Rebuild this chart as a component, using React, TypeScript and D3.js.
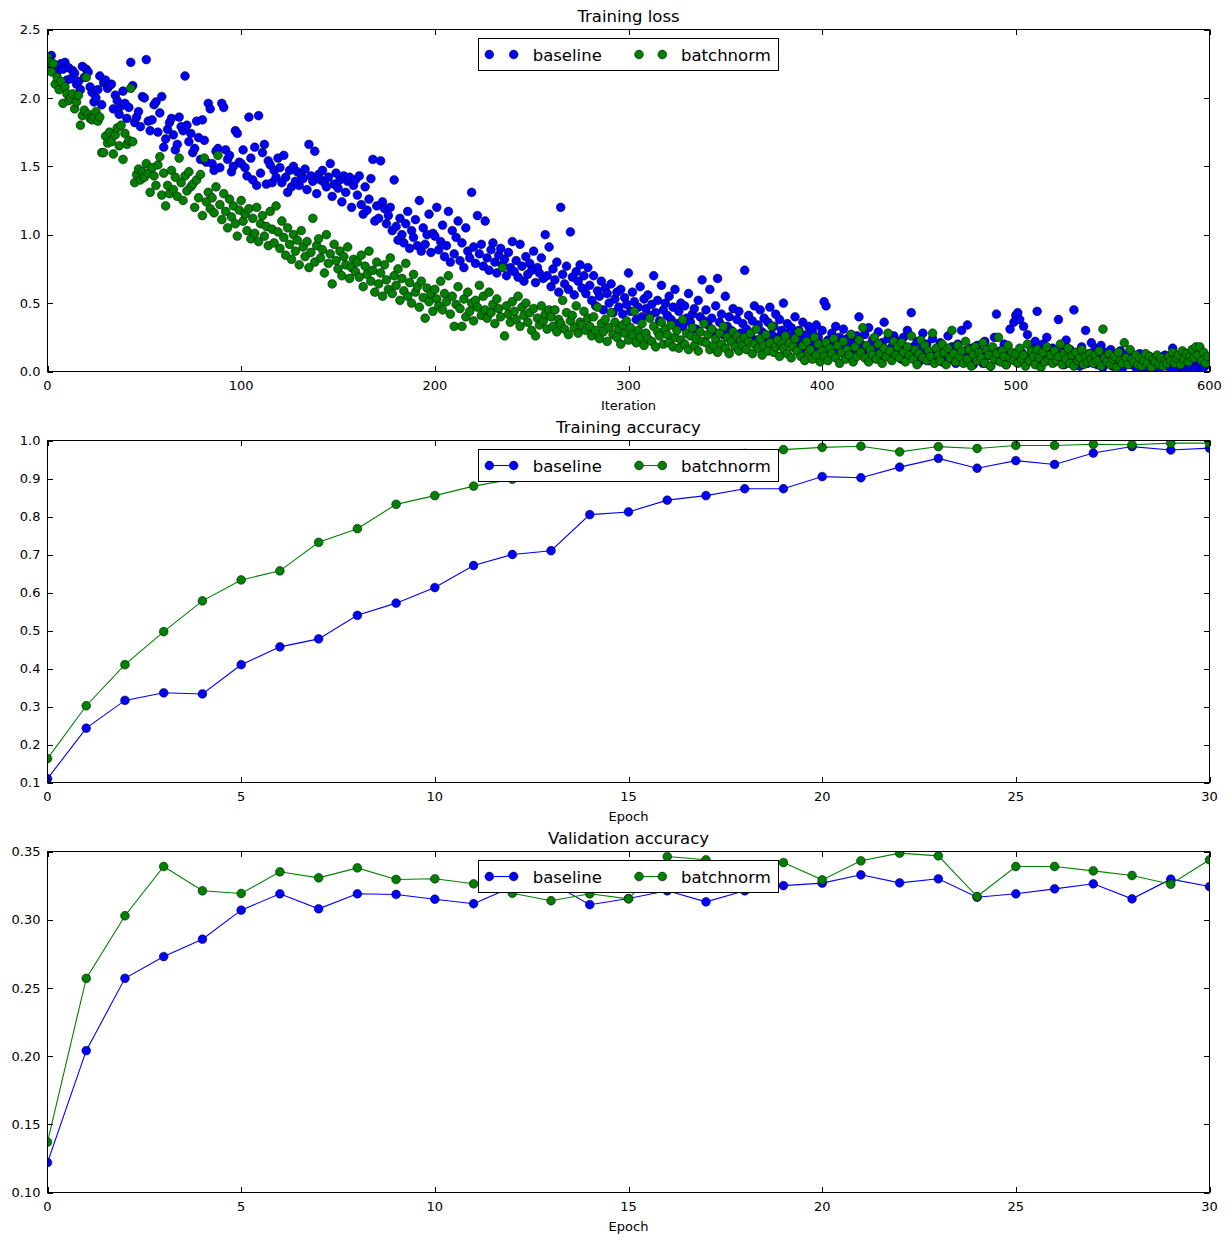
import React from 'react';
import * as d3 from 'd3';

// ---------- DATA ----------
const SERIES_NAMES = ['baseline', 'batchnorm'];
const SERIES_COLORS = ['#0000ff', '#008000'];

// Training loss per iteration (600 iterations)
const LOSS_BASELINE = [
  2.28, 2.25, 2.31, 2.22, 2.24, 2.19, 2.23, 2.25, 2.21, 2.26, 2.13, 2.22, 2.14, 2.20, 2.18, 2.10, 2.12, 2.06, 2.23, 2.15,
  2.21, 2.19, 2.08, 2.04, 1.97, 2.00, 2.06, 2.16, 1.95, 2.11, 2.13, 2.07, 2.09, 2.10, 1.92, 2.02, 1.98, 1.88, 1.94, 2.05,
  1.96, 1.85, 1.93, 2.26, 2.09, 1.82, 1.86, 1.90, 1.79, 2.01, 2.00, 2.28, 1.83, 1.76, 1.84, 1.95, 1.97, 1.75, 1.89, 2.01,
  1.64, 1.70, 1.77, 1.82, 1.85, 1.73, 1.62, 1.66, 1.86, 1.79, 1.76, 2.16, 1.80, 1.68, 1.74, 1.60, 1.63, 1.83, 1.71, 1.55,
  1.84, 1.69, 1.53, 1.96, 1.92, 1.52, 1.47, 1.61, 1.63, 1.49, 1.96, 1.93, 1.62, 1.55, 1.58, 1.46, 1.50, 1.76, 1.74, 1.53,
  1.52, 1.62, 1.49, 1.43, 1.86, 1.56, 1.40, 1.64, 1.36, 1.87, 1.45, 1.60, 1.66, 1.37, 1.54, 1.51, 1.38, 1.47, 1.42, 1.56,
  1.49, 1.38, 1.58, 1.42, 1.31, 1.47, 1.35, 1.50, 1.39, 1.46, 1.36, 1.44, 1.41, 1.48, 1.33, 1.66, 1.43, 1.39, 1.61, 1.30,
  1.44, 1.40, 1.47, 1.38, 1.35, 1.42, 1.52, 1.28, 1.37, 1.45, 1.34, 1.40, 1.24, 1.43, 1.31, 1.39, 1.42, 1.20, 1.36, 1.40,
  1.29, 1.43, 1.22, 1.15, 1.35, 1.18, 1.26, 1.41, 1.55, 1.10, 1.21, 1.12, 1.54, 1.24, 1.19, 1.08, 1.14, 1.20, 1.03, 1.40,
  1.06, 0.96, 1.12, 1.00, 0.94, 1.08, 1.17, 0.90, 1.03, 0.98, 1.11, 0.92, 1.25, 0.88, 1.05, 0.93, 1.00, 1.15, 0.87, 1.01,
  0.99, 1.20, 0.89, 0.95, 1.07, 0.84, 0.92, 1.17, 0.80, 1.03, 0.86, 0.98, 1.10, 0.81, 0.94, 0.76, 1.05, 0.88, 0.83, 1.31,
  0.91, 0.79, 1.14, 0.86, 0.93, 0.77, 1.10, 0.83, 0.74, 0.89, 0.94, 0.80, 0.72, 0.85, 0.90, 0.78, 0.82, 0.70, 0.87, 0.76,
  0.95, 0.73, 0.81, 0.69, 0.93, 0.77, 0.66, 0.84, 0.71, 0.79, 0.74, 0.88, 0.65, 0.76, 0.72, 0.83, 0.68, 1.00, 0.70, 0.91,
  0.62, 0.75, 0.67, 0.80, 0.58, 1.20, 0.71, 0.64, 0.77, 0.60, 1.02, 0.69, 0.56, 0.73, 0.66, 0.78, 0.61, 0.70, 0.57, 0.76,
  0.63, 0.52, 0.70, 0.48, 0.59, 0.55, 0.66, 0.45, 0.61, 0.57, 0.50, 0.64, 0.43, 0.53, 0.58, 0.47, 0.60, 0.42, 0.54, 0.49,
  0.72, 0.44, 0.58, 0.51, 0.38, 0.47, 0.62, 0.40, 0.53, 0.46, 0.56, 0.41, 0.49, 0.70, 0.43, 0.52, 0.37, 0.63, 0.45, 0.50,
  0.41, 0.55, 0.38, 0.47, 0.60, 0.35, 0.44, 0.50, 0.33, 0.48, 0.39, 0.57, 0.36, 0.42, 0.46, 0.31, 0.52, 0.40, 0.67, 0.37,
  0.45, 0.34, 0.60, 0.39, 0.29, 0.48, 0.68, 0.36, 0.42, 0.27, 0.55, 0.33, 0.40, 0.30, 0.46, 0.24, 0.38, 0.44, 0.28, 0.35,
  0.74, 0.31, 0.41, 0.26, 0.37, 0.48, 0.23, 0.34, 0.45, 0.29, 0.39, 0.22, 0.36, 0.47, 0.27, 0.33, 0.42, 0.25, 0.38, 0.30,
  0.50, 0.28, 0.35, 0.21, 0.32, 0.26, 0.40, 0.19, 0.30, 0.24, 0.36, 0.17, 0.27, 0.33, 0.22, 0.29, 0.18, 0.34, 0.25, 0.20,
  0.30, 0.51, 0.48, 0.23, 0.16, 0.28, 0.21, 0.33, 0.14, 0.25, 0.19, 0.31, 0.12, 0.24, 0.18, 0.27, 0.15, 0.22, 0.26, 0.40,
  0.20, 0.13, 0.27, 0.17, 0.32, 0.10, 0.23, 0.19, 0.15, 0.29, 0.12, 0.21, 0.36, 0.16, 0.24, 0.11, 0.18, 0.26, 0.14, 0.22,
  0.19, 0.09, 0.25, 0.15, 0.30, 0.13, 0.43, 0.18, 0.11, 0.22, 0.07, 0.16, 0.28, 0.12, 0.20, 0.08, 0.14, 0.24, 0.10, 0.17,
  0.13, 0.21, 0.07, 0.16, 0.11, 0.26, 0.09, 0.18, 0.14, 0.06, 0.20, 0.12, 0.30, 0.08, 0.15, 0.34, 0.10, 0.17, 0.05, 0.13,
  0.19, 0.09, 0.14, 0.06, 0.22, 0.11, 0.16, 0.04, 0.13, 0.25, 0.42, 0.08, 0.15, 0.10, 0.20, 0.05, 0.12, 0.31, 0.09, 0.36,
  0.41, 0.43, 0.38, 0.14, 0.33, 0.11, 0.27, 0.08, 0.18, 0.12, 0.22, 0.44, 0.15, 0.06, 0.20, 0.09, 0.25, 0.13, 0.10, 0.17,
  0.07, 0.14, 0.38, 0.11, 0.19, 0.05, 0.23, 0.09, 0.16, 0.12, 0.45, 0.08, 0.14, 0.04, 0.18, 0.10, 0.30, 0.06, 0.13, 0.21,
  0.09, 0.17, 0.05, 0.12, 0.19, 0.03, 0.14, 0.08, 0.11, 0.16, 0.04, 0.10, 0.13, 0.06, 0.15, 0.02, 0.09, 0.12, 0.07, 0.11,
  0.05, 0.10, 0.03, 0.08, 0.13, 0.06, 0.02, 0.09, 0.04, 0.11, 0.07, 0.03, 0.06, 0.10, 0.02, 0.08, 0.05, 0.12, 0.04, 0.07,
  0.03, 0.17, 0.06, 0.02, 0.09, 0.04, 0.11, 0.01, 0.07, 0.05, 0.13, 0.03, 0.08, 0.02, 0.10, 0.04, 0.06, 0.03, 0.09, 0.05,
];

const LOSS_BATCHNORM = [
  2.30, 2.26, 2.19, 2.25, 2.10, 2.15, 2.06, 2.12, 1.96, 2.08, 2.03, 1.98, 2.00, 2.03, 1.92, 1.97, 2.02, 1.80, 1.87, 1.91,
  2.15, 1.88, 1.85, 1.84, 1.86, 1.90, 1.83, 1.86, 1.60, 1.60, 1.72, 1.67, 1.75, 1.68, 1.59, 1.73, 1.78, 1.65, 1.80, 1.55,
  1.74, 1.66, 1.69, 2.07, 1.68, 1.38, 1.44, 1.48, 1.40, 1.46, 1.42, 1.52, 1.45, 1.31, 1.49, 1.43, 1.36, 1.51, 1.57, 1.29,
  1.45, 1.21, 1.36, 1.30, 1.47, 1.33, 1.42, 1.28, 1.56, 1.38, 1.25, 1.43, 1.32, 1.46, 1.35, 1.37, 1.20, 1.40, 1.27, 1.44,
  1.14, 1.56, 1.24, 1.31, 1.19, 1.27, 1.16, 1.35, 1.58, 1.22, 1.11, 1.30, 1.17, 1.05, 1.26, 1.13, 1.21, 1.08, 0.99, 1.18,
  1.25, 1.10, 1.15, 1.03, 1.19, 0.97, 1.12, 1.01, 1.20, 0.95, 1.08, 1.14, 0.99, 1.06, 0.92, 1.17, 1.04, 0.94, 1.21, 1.02,
  0.90, 1.10, 0.98, 0.85, 1.05, 0.93, 0.82, 1.00, 0.88, 0.96, 0.78, 1.03, 0.91, 0.84, 0.95, 0.76, 0.87, 1.12, 0.80, 0.92,
  0.97, 0.83, 0.89, 0.72, 1.00, 0.79, 0.86, 0.64, 0.93, 0.81, 0.75, 0.88, 0.70, 0.84, 0.78, 0.91, 0.68, 0.76, 0.82, 0.73,
  0.80, 0.69, 0.85, 0.62, 0.77, 0.71, 0.88, 0.66, 0.74, 0.58, 0.80, 0.64, 0.72, 0.55, 0.78, 0.67, 0.60, 0.83, 0.57, 0.70,
  0.63, 0.75, 0.52, 0.68, 0.59, 0.79, 0.55, 0.65, 0.50, 0.71, 0.58, 0.62, 0.47, 0.66, 0.54, 0.39, 0.61, 0.51, 0.57, 0.44,
  0.60, 0.53, 0.48, 0.66, 0.45, 0.57, 0.51, 0.70, 0.42, 0.55, 0.33, 0.49, 0.62, 0.46, 0.33, 0.53, 0.40, 0.58, 0.44, 0.50,
  0.37, 0.52, 0.47, 0.63, 0.41, 0.55, 0.45, 0.39, 0.58, 0.43, 0.49, 0.35, 0.53, 0.46, 0.40, 0.76, 0.26, 0.48, 0.42, 0.36,
  0.51, 0.44, 0.38, 0.55, 0.33, 0.47, 0.41, 0.50, 0.36, 0.43, 0.30, 0.46, 0.26, 0.39, 0.34, 0.48, 0.37, 0.42, 0.31, 0.45,
  0.40, 0.33, 0.45, 0.29, 0.38, 0.35, 0.52, 0.31, 0.43, 0.27, 0.37, 0.41, 0.32, 0.48, 0.28, 0.36, 0.34, 0.44, 0.30, 0.39,
  0.33, 0.26, 0.40, 0.30, 0.47, 0.24, 0.35, 0.29, 0.38, 0.22, 0.32, 0.43, 0.27, 0.36, 0.25, 0.31, 0.20, 0.34, 0.28, 0.37,
  0.23, 0.32, 0.27, 0.44, 0.21, 0.30, 0.25, 0.35, 0.19, 0.28, 0.24, 0.39, 0.22, 0.33, 0.18, 0.29, 0.26, 0.36, 0.20, 0.31,
  0.27, 0.21, 0.34, 0.18, 0.25, 0.30, 0.17, 0.23, 0.38, 0.20, 0.28, 0.16, 0.26, 0.32, 0.19, 0.24, 0.15, 0.29, 0.22, 0.35,
  0.21, 0.27, 0.16, 0.31, 0.19, 0.24, 0.14, 0.28, 0.20, 0.33, 0.17, 0.25, 0.13, 0.22, 0.29, 0.18, 0.26, 0.15, 0.23, 0.19,
  0.25, 0.16, 0.22, 0.28, 0.13, 0.20, 0.31, 0.17, 0.24, 0.12, 0.19, 0.27, 0.15, 0.21, 0.33, 0.14, 0.18, 0.23, 0.11, 0.20,
  0.17, 0.26, 0.13, 0.21, 0.10, 0.18, 0.24, 0.15, 0.29, 0.11, 0.19, 0.08, 0.22, 0.14, 0.16, 0.09, 0.25, 0.12, 0.20, 0.07,
  0.15, 0.11, 0.21, 0.08, 0.17, 0.13, 0.24, 0.10, 0.19, 0.06, 0.14, 0.22, 0.09, 0.16, 0.12, 0.27, 0.07, 0.18, 0.11, 0.23,
  0.14, 0.32, 0.10, 0.19, 0.07, 0.16, 0.12, 0.25, 0.09, 0.20, 0.13, 0.06, 0.17, 0.11, 0.28, 0.15, 0.08, 0.22, 0.12, 0.18,
  0.10, 0.21, 0.14, 0.07, 0.18, 0.12, 0.26, 0.09, 0.16, 0.05, 0.13, 0.23, 0.10, 0.19, 0.08, 0.15, 0.11, 0.28, 0.06, 0.17,
  0.12, 0.08, 0.20, 0.14, 0.05, 0.17, 0.10, 0.30, 0.13, 0.07, 0.19, 0.11, 0.15, 0.06, 0.22, 0.09, 0.16, 0.04, 0.12, 0.18,
  0.08, 0.14, 0.10, 0.21, 0.06, 0.16, 0.12, 0.04, 0.18, 0.09, 0.13, 0.25, 0.07, 0.15, 0.11, 0.05, 0.19, 0.10, 0.14, 0.08,
  0.13, 0.06, 0.17, 0.09, 0.12, 0.04, 0.20, 0.08, 0.15, 0.11, 0.05, 0.16, 0.10, 0.03, 0.14, 0.07, 0.18, 0.09, 0.12, 0.06,
  0.15, 0.08, 0.11, 0.20, 0.05, 0.13, 0.09, 0.17, 0.06, 0.12, 0.04, 0.14, 0.08, 0.10, 0.16, 0.05, 0.11, 0.07, 0.13, 0.09,
  0.06, 0.12, 0.08, 0.15, 0.04, 0.31, 0.10, 0.07, 0.13, 0.05, 0.09, 0.11, 0.03, 0.14, 0.08, 0.06, 0.21, 0.10, 0.05, 0.16,
  0.09, 0.07, 0.12, 0.05, 0.10, 0.04, 0.08, 0.13, 0.06, 0.11, 0.03, 0.09, 0.07, 0.12, 0.05, 0.10, 0.04, 0.08, 0.06, 0.11,
  0.08, 0.14, 0.06, 0.10, 0.12, 0.05, 0.15, 0.09, 0.13, 0.07, 0.11, 0.16, 0.10, 0.18, 0.12, 0.18, 0.08, 0.14, 0.06, 0.11,
];

// Per-epoch accuracies (epochs 0..30)
const TRAIN_ACC_BASELINE = [
  0.110, 0.243, 0.316, 0.336, 0.333, 0.410, 0.457, 0.478, 0.540, 0.572, 0.613,
  0.671, 0.700, 0.710, 0.805, 0.812, 0.843, 0.855, 0.873, 0.873, 0.905,
  0.902, 0.930, 0.953, 0.927, 0.947, 0.937, 0.967, 0.984, 0.975, 0.980,
];
const TRAIN_ACC_BATCHNORM = [
  0.163, 0.302, 0.410, 0.497, 0.578, 0.633, 0.657, 0.732, 0.768, 0.832, 0.855,
  0.880, 0.898, 0.915, 0.930, 0.942, 0.952, 0.960, 0.966, 0.976, 0.982,
  0.985, 0.970, 0.984, 0.979, 0.987, 0.987, 0.990, 0.989, 0.993, 0.993,
];
const VAL_ACC_BASELINE = [
  0.122, 0.204, 0.257, 0.273, 0.2857, 0.307, 0.319, 0.308, 0.319, 0.3185, 0.315,
  0.3117, 0.324, 0.327, 0.311, 0.3155, 0.3212, 0.3131, 0.3212, 0.325, 0.3268,
  0.3329, 0.327, 0.330, 0.3165, 0.319, 0.3226, 0.3263, 0.3153, 0.3297, 0.3243,
];
const VAL_ACC_BATCHNORM = [
  0.137, 0.257, 0.3029, 0.339, 0.3212, 0.3192, 0.3351, 0.3307, 0.338, 0.3295, 0.330,
  0.3263, 0.3194, 0.3139, 0.319, 0.3153, 0.3463, 0.3439, 0.339, 0.3419, 0.3292,
  0.3432, 0.3488, 0.3468, 0.317, 0.339, 0.339, 0.3358, 0.3324, 0.326, 0.3439,
];

const LOSS_X_TICKS = [0, 100, 200, 300, 400, 500, 600];
const LOSS_Y_TICKS = [0.0, 0.5, 1.0, 1.5, 2.0, 2.5];
const EPOCH_X_TICKS = [0, 5, 10, 15, 20, 25, 30];
const TRAIN_ACC_Y_TICKS = [0.1, 0.2, 0.3, 0.4, 0.5, 0.6, 0.7, 0.8, 0.9, 1.0];
const VAL_ACC_Y_TICKS = [0.10, 0.15, 0.20, 0.25, 0.30, 0.35];

// ---------- LAYOUT ----------
const W = 1232;
const H = 1243;
const LEFT = 47.5;
const RIGHT = 1209.5;
const FONT = 'DejaVu Sans, Verdana, sans-serif';
const MARKER_R = 4.4;
const TICK_LEN = 5.5;

type PanelProps = {
  id: string;
  top: number;
  bottom: number;
  title: string;
  xlabel: string;
  xDomain: [number, number];
  yDomain: [number, number];
  xTicks: number[];
  yTicks: number[];
  yFmt: (v: number) => string;
  series: number[][];
  withLines: boolean;
};

function Panel(p: PanelProps) {
  const x = d3.scaleLinear().domain(p.xDomain).range([LEFT, RIGHT]);
  const y = d3.scaleLinear().domain(p.yDomain).range([p.bottom, p.top]);
  const line = d3
    .line<number>()
    .x((_, i) => x(i))
    .y((d) => y(d));
  const legendTop = p.top + 9;
  const legendX0 = 478.5;
  const legendX1 = 778.5;
  const legendCy = legendTop + 16;
  const entries = [
    { m1: 489.3, m2: 513.7, tx: 532.7 },
    { m1: 639, m2: 662.3, tx: 681 },
  ];
  return (
    <g>
      <defs>
        <clipPath id={`clip-${p.id}`}>
          <rect x={LEFT} y={p.top} width={RIGHT - LEFT} height={p.bottom - p.top} />
        </clipPath>
      </defs>
      <g clipPath={`url(#clip-${p.id})`}>
        {p.series.map((vals, si) => (
          <g key={si}>
            {p.withLines && (
              <path d={line(vals) || ''} fill="none" stroke={SERIES_COLORS[si]} strokeWidth={1.1} />
            )}
            {vals.map((v, i) => (
              <circle
                key={i}
                cx={x(i)}
                cy={y(v)}
                r={MARKER_R}
                fill={SERIES_COLORS[si]}
                stroke="#000"
                strokeWidth={0.5}
              />
            ))}
          </g>
        ))}
      </g>
      {/* frame */}
      <rect
        x={LEFT}
        y={p.top}
        width={RIGHT - LEFT}
        height={p.bottom - p.top}
        fill="none"
        stroke="#000"
        strokeWidth={1}
      />
      {/* x ticks */}
      {p.xTicks.map((t) => {
        const xx = Math.round(x(t)) + 0.5;
        return (
          <g key={`xt${t}`}>
            <line x1={xx} x2={xx} y1={p.bottom} y2={p.bottom - TICK_LEN} stroke="#000" strokeWidth={1} />
            <line x1={xx} x2={xx} y1={p.top} y2={p.top + TICK_LEN} stroke="#000" strokeWidth={1} />
            <text
              x={x(t)}
              y={p.bottom + 18}
              textAnchor="middle"
              fontFamily={FONT}
              fontSize={13}
              fill="#000"
            >
              {t}
            </text>
          </g>
        );
      })}
      {/* y ticks */}
      {p.yTicks.map((t) => {
        const yy = Math.round(y(t)) + 0.5;
        return (
          <g key={`yt${t}`}>
            <line x1={LEFT} x2={LEFT + TICK_LEN} y1={yy} y2={yy} stroke="#000" strokeWidth={1} />
            <line x1={RIGHT} x2={RIGHT - TICK_LEN} y1={yy} y2={yy} stroke="#000" strokeWidth={1} />
            <text
              x={LEFT - 7}
              y={y(t) + 4.7}
              textAnchor="end"
              fontFamily={FONT}
              fontSize={13}
              fill="#000"
            >
              {p.yFmt(t)}
            </text>
          </g>
        );
      })}
      {/* title */}
      <text
        x={(LEFT + RIGHT) / 2}
        y={p.top - 7.5}
        textAnchor="middle"
        fontFamily={FONT}
        fontSize={16.5}
        fill="#000"
      >
        {p.title}
      </text>
      {/* x label */}
      <text
        x={(LEFT + RIGHT) / 2}
        y={p.bottom + 38}
        textAnchor="middle"
        fontFamily={FONT}
        fontSize={13}
        fill="#000"
      >
        {p.xlabel}
      </text>
      {/* legend */}
      <rect
        x={legendX0}
        y={legendTop}
        width={legendX1 - legendX0}
        height={32}
        fill="#fff"
        stroke="#000"
        strokeWidth={1}
      />
      {entries.map((e, si) => (
        <g key={`lg${si}`}>
          {p.withLines && (
            <line x1={e.m1} x2={e.m2} y1={legendCy} y2={legendCy} stroke={SERIES_COLORS[si]} strokeWidth={1.1} />
          )}
          <circle cx={e.m1} cy={legendCy} r={MARKER_R} fill={SERIES_COLORS[si]} stroke="#000" strokeWidth={0.5} />
          <circle cx={e.m2} cy={legendCy} r={MARKER_R} fill={SERIES_COLORS[si]} stroke="#000" strokeWidth={0.5} />
          <text x={e.tx} y={legendCy + 6} fontFamily={FONT} fontSize={16.5} fill="#000">
            {SERIES_NAMES[si]}
          </text>
        </g>
      ))}
    </g>
  );
}

export default function App() {
  const f1 = d3.format('.1f');
  const f2 = d3.format('.2f');
  return (
    <svg
      width={W}
      height={H}
      viewBox={`0 0 ${W} ${H}`}
      style={{ position: 'absolute', left: 0, top: 0, background: '#fff' }}
    >
      <rect x={0} y={0} width={W} height={H} fill="#fff" />
      <Panel
        id="loss"
        top={29.5}
        bottom={371.5}
        title="Training loss"
        xlabel="Iteration"
        xDomain={[0, 600]}
        yDomain={[0, 2.5]}
        xTicks={LOSS_X_TICKS}
        yTicks={LOSS_Y_TICKS}
        yFmt={f1}
        series={[LOSS_BASELINE, LOSS_BATCHNORM]}
        withLines={false}
      />
      <Panel
        id="tacc"
        top={440.5}
        bottom={782.5}
        title="Training accuracy"
        xlabel="Epoch"
        xDomain={[0, 30]}
        yDomain={[0.1, 1.0]}
        xTicks={EPOCH_X_TICKS}
        yTicks={TRAIN_ACC_Y_TICKS}
        yFmt={f1}
        series={[TRAIN_ACC_BASELINE, TRAIN_ACC_BATCHNORM]}
        withLines={true}
      />
      <Panel
        id="vacc"
        top={851.5}
        bottom={1192.5}
        title="Validation accuracy"
        xlabel="Epoch"
        xDomain={[0, 30]}
        yDomain={[0.1, 0.35]}
        xTicks={EPOCH_X_TICKS}
        yTicks={VAL_ACC_Y_TICKS}
        yFmt={f2}
        series={[VAL_ACC_BASELINE, VAL_ACC_BATCHNORM]}
        withLines={true}
      />
    </svg>
  );
}
